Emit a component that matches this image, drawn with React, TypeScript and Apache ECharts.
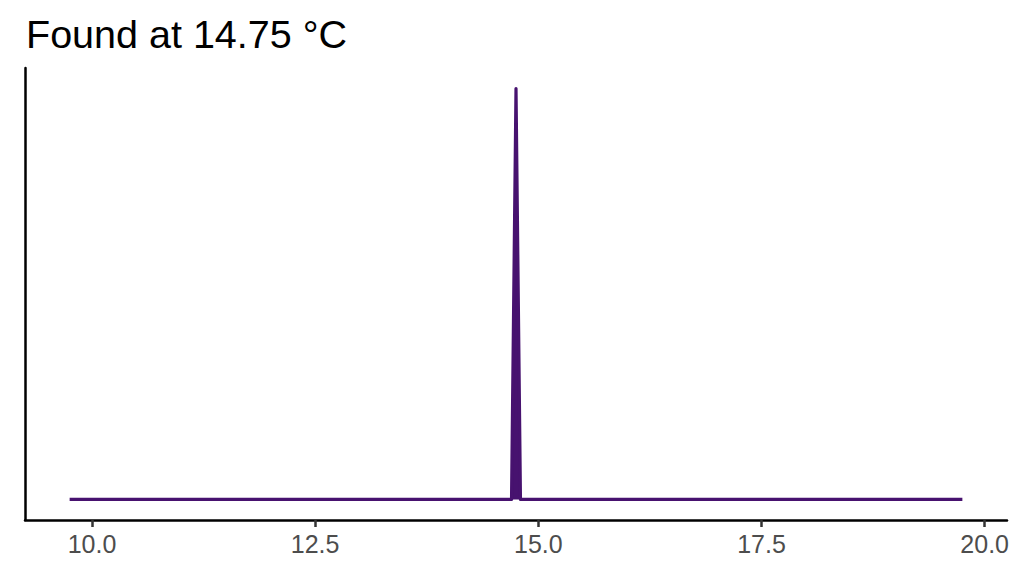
import React, { useEffect, useRef } from 'react'
import * as echarts from 'echarts'

// temperature (°C) and relative signal
const temps = [9.75, 14.7, 14.75, 14.8, 19.75]
const signal = [0, 0, 1, 0, 0]
const tickValues = [10, 12.5, 15, 17.5, 20]
const titleText = 'Found at 14.75 °C'

const FONT = '"Liberation Sans", Arial, sans-serif'
const LINE = '#47126f'

export default function App(): JSX.Element {
  const chartRef = useRef<HTMLDivElement>(null)

  useEffect(() => {
    document.body.style.margin = '0'
    if (!chartRef.current) return
    const chart = echarts.init(chartRef.current, undefined, { renderer: 'svg' })

    chart.setOption({
      animation: false,
      backgroundColor: '#ffffff',
      title: {
        text: titleText,
        left: 21,
        top: 9,
        textStyle: { fontFamily: FONT, fontSize: 39.5, fontWeight: 'normal', color: '#000000' }
      },
      grid: { left: 25, right: 17, top: 68, bottom: 56, containLabel: false },
      xAxis: {
        type: 'value',
        min: 9.25,
        max: 20.25,
        splitLine: { show: false },
        axisLine: { show: true, onZero: false, lineStyle: { color: '#000000', width: 2.5 } },
        axisTick: {
          show: true,
          customValues: tickValues,
          length: 7,
          lineStyle: { color: '#333333', width: 2.5 }
        },
        axisLabel: {
          show: true,
          customValues: tickValues,
          margin: 11,
          color: '#4d4d4d',
          fontFamily: FONT,
          fontSize: 25,
          formatter: (v: number) => v.toFixed(1)
        }
      },
      yAxis: {
        type: 'value',
        min: -0.05,
        max: 1.05,
        splitLine: { show: false },
        axisLine: { show: true, onZero: false, lineStyle: { color: '#000000', width: 2.5 } },
        axisTick: { show: false },
        axisLabel: { show: false }
      },
      series: [
        {
          type: 'line',
          data: temps.map((t, i) => [t, signal[i]]),
          showSymbol: false,
          symbol: 'none',
          lineStyle: { color: LINE, width: 3.2, join: 'round' },
          areaStyle: { color: LINE, opacity: 1, origin: 'auto' },
          itemStyle: { color: LINE }
        }
      ]
    })

    return () => chart.dispose()
  }, [])

  return <div ref={chartRef} style={{ width: 1024, height: 576 }} />
}
